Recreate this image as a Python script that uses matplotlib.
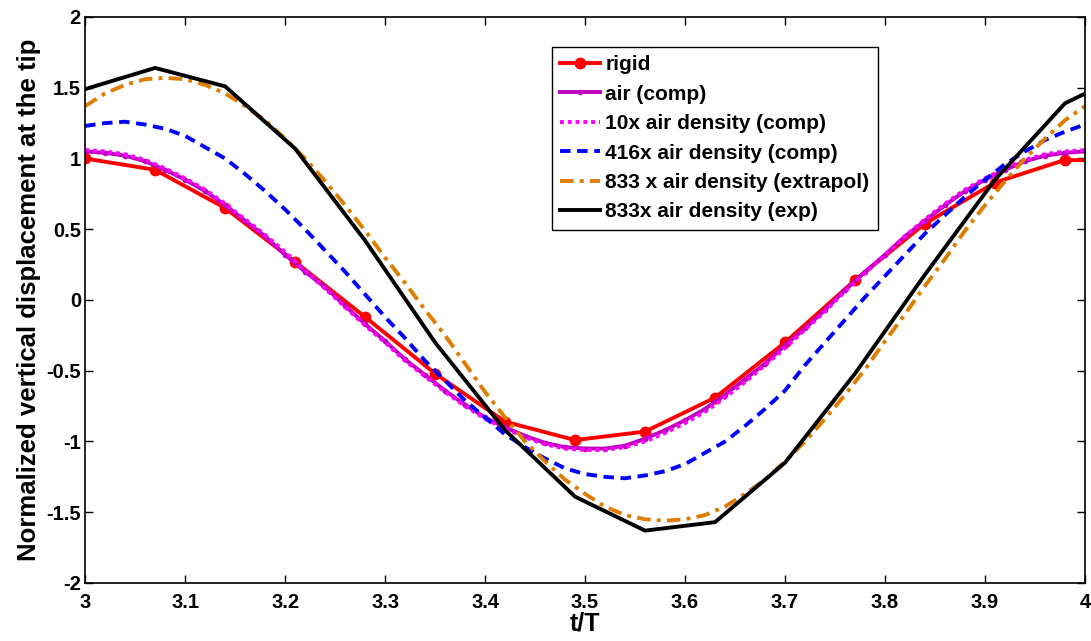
import numpy as np
import matplotlib
matplotlib.use("Agg")
import matplotlib.pyplot as plt

plt.rcParams['font.family'] = ['Liberation Sans', 'DejaVu Sans']
plt.rcParams['font.weight'] = 'bold'

# sampled curves (t/T step 0.02)
t_fine = np.round(np.arange(3.0, 4.001, 0.02), 2)
air_comp = [1.05, 1.04, 1.02, 0.98, 0.92, 0.85, 0.77, 0.67, 0.56, 0.45, 0.32, 0.20, 0.09,
            -0.04, -0.17, -0.29, -0.42, -0.53, -0.64, -0.74, -0.83, -0.90, -0.96, -1.01, -1.04,
            -1.05, -1.05, -1.03, -0.98, -0.92, -0.85, -0.77, -0.67, -0.56, -0.45, -0.32, -0.20,
            -0.07, 0.07, 0.20, 0.32, 0.45, 0.56, 0.67, 0.77, 0.85, 0.92, 0.98, 1.02, 1.04, 1.05]
air10_comp = [1.06, 1.05, 1.03, 0.99, 0.93, 0.86, 0.78, 0.68, 0.57, 0.46, 0.34, 0.21, 0.08,
              -0.05, -0.18, -0.30, -0.43, -0.54, -0.65, -0.75, -0.84, -0.91, -0.97, -1.02, -1.05,
              -1.06, -1.06, -1.04, -1.00, -0.94, -0.87, -0.79, -0.69, -0.58, -0.46, -0.34, -0.21,
              -0.08, 0.06, 0.19, 0.32, 0.45, 0.57, 0.68, 0.78, 0.86, 0.93, 0.99, 1.03, 1.05, 1.06]
air416_comp = [1.23, 1.25, 1.26, 1.24, 1.21, 1.16, 1.08, 1.00, 0.89, 0.77, 0.64, 0.50, 0.35,
               0.20, 0.04, -0.12, -0.27, -0.43, -0.57, -0.71, -0.83, -0.95, -1.04, -1.12, -1.19,
               -1.23, -1.25, -1.26, -1.24, -1.21, -1.16, -1.08, -1.00, -0.89, -0.77, -0.64, -0.46,
               -0.30, -0.14, 0.02, 0.17, 0.32, 0.47, 0.60, 0.73, 0.85, 0.96, 1.05, 1.13, 1.19, 1.24]
air833_extrapol = [1.37, 1.46, 1.52, 1.56, 1.57, 1.56, 1.52, 1.46, 1.37, 1.27, 1.14, 1.00, 0.84,
                   0.67, 0.49, 0.30, 0.12, -0.07, -0.25, -0.45, -0.65, -0.83, -1.00, -1.14, -1.27,
                   -1.37, -1.46, -1.52, -1.55, -1.56, -1.55, -1.52, -1.46, -1.37, -1.27, -1.14, -1.00,
                   -0.84, -0.67, -0.49, -0.29, -0.10, 0.10, 0.29, 0.49, 0.67, 0.84, 1.00, 1.14, 1.27, 1.37]

# coarse series (t/T step 0.07)
t_coarse = [3.00, 3.07, 3.14, 3.21, 3.28, 3.35, 3.42, 3.49, 3.56, 3.63, 3.70, 3.77, 3.84, 3.91, 3.98, 4.05]
rigid = [1.00, 0.92, 0.65, 0.27, -0.12, -0.52, -0.86, -0.99, -0.93, -0.69, -0.30, 0.14, 0.54, 0.83, 0.99, 0.98]
air833_exp = [1.49, 1.64, 1.51, 1.07, 0.42, -0.30, -0.92, -1.39, -1.63, -1.57, -1.15, -0.52, 0.18, 0.85, 1.39, 1.63]

fig = plt.figure(figsize=(10.91, 6.41), dpi=100)
ax = fig.add_axes([0.078, 0.0905, 0.9165, 0.883])

ax.plot(t_coarse, rigid, color='red', lw=2.8, marker='o', ms=7.5, label='rigid')
ax.plot(t_fine, air_comp, color=(0.75, 0, 0.75), lw=2.8, marker='.', ms=6, label='air (comp)')
ax.plot(t_fine, air10_comp, color=(1, 0, 1), lw=2.8, ls=(0, (1, 1)), label='10x air density (comp)')
ax.plot(t_fine, air416_comp, color=(0, 0, 1), lw=2.8, ls=(0, (2.7, 1.7)), label='416x air density (comp)')
ax.plot(t_fine, air833_extrapol, color=(0.87, 0.49, 0.0), lw=2.8, ls=(0, (3.5, 1.6, 1, 1.6)),
        label='833 x air density (extrapol)')
ax.plot(t_coarse, air833_exp, color='black', lw=2.8, label='833x air density (exp)')

ax.set_xlim(3, 4)
ax.set_ylim(-2, 2)
ax.set_xticks(np.round(np.arange(3, 4.01, 0.1), 1))
ax.set_xticklabels(['3', '3.1', '3.2', '3.3', '3.4', '3.5', '3.6', '3.7', '3.8', '3.9', '4'])
ax.set_yticks(np.arange(-2, 2.01, 0.5))
ax.set_yticklabels(['-2', '-1.5', '-1', '-0.5', '0', '0.5', '1', '1.5', '2'])
ax.tick_params(direction='in', length=6, width=1, top=True, right=True, labelsize=14.5)
ax.tick_params(axis='x', pad=7)
ax.tick_params(axis='y', pad=3)
for s in ax.spines.values():
    s.set_linewidth(1.2)

ax.set_xlabel('t/T', fontsize=18, fontweight='bold', labelpad=0)
ax.set_ylabel('Normalized vertical displacement at the tip', fontsize=18.5, fontweight='bold', labelpad=4)

leg = ax.legend(loc='upper left', bbox_to_anchor=(0.467, 0.947), fontsize=15, frameon=True,
                fancybox=False, edgecolor='black', framealpha=1, handlelength=1.9,
                handletextpad=0.25, labelspacing=0.5, borderpad=0.4, borderaxespad=0)
leg.get_frame().set_linewidth(1.0)

fig.savefig('out.png', dpi=100)
